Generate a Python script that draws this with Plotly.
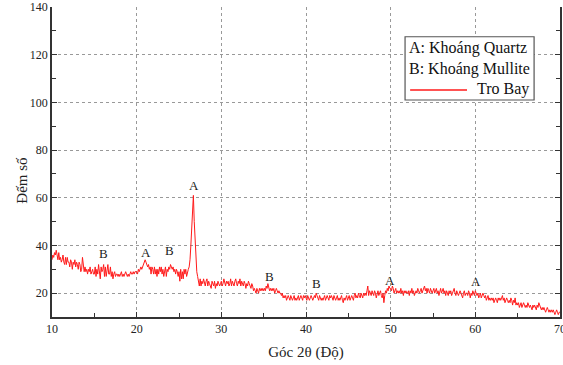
import numpy as np
import plotly.graph_objects as go

# 2-theta start/step (degrees)
theta_start = 10.0
theta_step = 0.1

# Counts, one row per degree (10.0 .. 69.9), then 70.0
counts = [
    34,36,35,37,36,38,36,34,37,34,   # 10
    35,33,34,36,33,32,35,32,35,33,   # 11
    33,31,34,33,30,33,32,34,31,33,   # 12
    32,30,33,32,29,30,35,30,29,31,   # 13
    29,30,28,30,29,31,28,29,30,28,   # 14
    28,31,27,30,28,32,28,26,31,29,   # 15
    30,32,27,31,27,30,32,28,28,31,   # 16
    27,29,26,28,29,27,28,28,27,28,   # 17
    27,28,29,27,28,27,28,29,28,27,   # 18
    28,27,28,29,28,28,29,28,29,29,   # 19
    29,28,30,29,30,31,30,31,32,33,   # 20
    34,33,32,31,32,30,31,28,31,30,   # 21
    28,31,28,30,27,30,28,31,29,31,   # 22
    28,30,27,29,31,27,30,29,31,30,   # 23
    32,31,30,31,29,30,28,30,29,27,   # 24
    29,25,30,26,29,26,30,28,30,27,   # 25
    29,30,31,34,40,47,51,61,50,41,   # 26
    34,29,27,25,23,26,23,25,24,26,   # 27
    24,23,25,26,23,25,24,23,22,25,   # 28
    24,23,25,22,24,23,25,24,23,24,   # 29
    25,23,24,26,24,23,25,24,25,23,   # 30
    24,26,23,25,24,23,25,26,24,23,   # 31
    25,24,26,23,25,24,23,25,24,22,   # 32
    24,23,25,24,23,22,24,23,21,22,   # 33
    21,20,22,21,20,22,21,22,21,22,   # 34
    21,22,21,23,22,24,22,21,22,21,   # 35
    22,21,22,20,21,22,21,20,21,20,   # 36
    20,19,20,18,19,18,19,17,18,19,   # 37
    18,17,19,18,17,18,19,17,18,17,   # 38
    18,19,17,18,19,18,17,19,18,19,   # 39
    18,17,19,18,17,18,19,18,17,18,   # 40
    19,18,20,19,18,17,19,18,17,18,   # 41
    17,18,19,17,18,19,18,17,19,18,   # 42
    19,18,17,19,18,17,18,19,17,18,   # 43
    17,18,19,17,16,18,17,18,19,17,   # 44
    18,19,17,18,19,18,17,19,20,18,   # 45
    19,18,20,19,18,20,19,18,20,19,   # 46
    20,19,21,23,19,21,20,19,21,20,   # 47
    19,21,20,18,20,21,19,20,21,19,   # 48
    18,20,16,19,21,20,22,21,23,22,   # 49
    22,21,23,22,20,21,22,20,21,20,   # 50
    21,20,22,20,21,19,21,20,21,20,   # 51
    20,21,19,21,20,22,20,21,19,20,   # 52
    21,20,22,21,20,21,22,20,21,22,   # 53
    23,21,22,20,22,21,20,22,21,20,   # 54
    21,22,20,21,22,20,21,19,21,22,   # 55
    20,21,22,20,21,19,21,20,19,21,   # 56
    20,21,19,20,21,22,20,19,21,20,   # 57
    19,20,21,20,19,18,20,21,19,20,   # 58
    20,19,21,20,18,20,19,21,20,19,   # 59
    21,20,19,20,18,19,20,18,19,20,   # 60
    19,18,19,17,18,19,17,18,17,18,   # 61
    17,18,16,17,18,17,16,18,17,18,   # 62
    17,18,19,17,18,16,17,18,17,16,   # 63
    17,16,18,17,15,17,16,18,15,16,   # 64
    15,16,14,15,16,14,15,16,15,14,   # 65
    15,14,16,15,14,15,14,13,15,14,   # 66
    15,14,13,15,14,16,15,14,13,14,   # 67
    13,14,13,12,13,14,13,12,13,12,   # 68
    13,12,13,12,11,12,13,12,11,12,   # 69
    12,                              # 70
]

# Phase markers
peak_labels = ["B", "A", "B", "A", "B", "B", "A", "A"]
peak_x = [16.1, 21.1, 23.9, 26.8, 35.7, 41.2, 49.9, 60.1]
peak_y = [36.8, 37.2, 38.0, 65.3, 27.1, 24.2, 25.5, 25.0]

legend_lines = ["A: Khoáng Quartz", "B: Khoáng Mullite"]
series_name = "Tro Bay"
x_title = "Góc 2θ (Độ)"
y_title = "Đếm số"

x_ticks = [10, 20, 30, 40, 50, 60, 70]
y_ticks = [20, 40, 60, 80, 100, 120, 140]

two_theta = theta_start + theta_step * np.arange(len(counts))

FONT = "Liberation Serif, Times New Roman, serif"
RED = "#ff1a1a"

fig = go.Figure()
fig.add_trace(go.Scatter(x=two_theta, y=counts, mode="lines", name=series_name,
                         line=dict(color=RED, width=1), showlegend=False))

for lab, px_, py_ in zip(peak_labels, peak_x, peak_y):
    fig.add_annotation(x=px_, y=py_, text=lab, showarrow=False, xref="x", yref="y",
                       font=dict(family=FONT, size=13, color="#222"))

# legend box
fig.add_shape(type="rect", xref="paper", yref="paper", x0=0.695, x1=0.949, y0=0.700, y1=0.904,
              line=dict(color="#555", width=1.2), fillcolor="white", layer="above")
fig.add_annotation(xref="paper", yref="paper", x=0.699, y=0.868, xanchor="left", yanchor="middle",
                   text=legend_lines[0], showarrow=False, font=dict(family=FONT, size=16, color="#111"))
fig.add_annotation(xref="paper", yref="paper", x=0.699, y=0.800, xanchor="left", yanchor="middle",
                   text=legend_lines[1], showarrow=False, font=dict(family=FONT, size=16, color="#111"))
fig.add_shape(type="line", xref="paper", yref="paper", x0=0.705, x1=0.817, y0=0.732, y1=0.732,
              line=dict(color=RED, width=1.5), layer="above")
fig.add_annotation(xref="paper", yref="paper", x=0.833, y=0.735, xanchor="left", yanchor="middle",
                   text=series_name, showarrow=False, font=dict(family=FONT, size=16, color="#111"))

# y-axis title as rotated annotation
fig.add_annotation(xref="paper", yref="paper", x=-0.059, y=0.44, xanchor="center", yanchor="middle",
                   text=y_title, textangle=-90, showarrow=False,
                   font=dict(family=FONT, size=15, color="#222"))

fig.update_layout(
    width=563, height=365,
    margin=dict(l=52, r=3, t=7, b=48),
    paper_bgcolor="white", plot_bgcolor="white",
    font=dict(family=FONT, size=12, color="#222"),
    showlegend=False,
)
fig.update_xaxes(
    range=[10, 70], tickvals=x_ticks, ticks="inside", ticklen=5, tickcolor="#333",
    minor=dict(dtick=5, ticks="inside", ticklen=4, tickcolor="#333", showgrid=False),
    showline=True, linecolor="#333", linewidth=1.5, mirror=False, automargin=False,
    ticklabeloverflow="allow",
    showgrid=True, gridcolor="#999", griddash="dot", gridwidth=1, zeroline=False,
    title=dict(text=x_title, font=dict(family=FONT, size=15, color="#222"), standoff=11),
    tickfont=dict(family=FONT, size=12, color="#222"),
)
fig.update_yaxes(
    range=[10, 140], tickvals=y_ticks, ticks="inside", ticklen=5, tickcolor="#333",
    minor=dict(dtick=10, tick0=0, ticks="inside", ticklen=4, tickcolor="#333", showgrid=False),
    showline=True, linecolor="#333", linewidth=1.5, mirror="ticks", automargin=False,
    showgrid=True, gridcolor="#999", griddash="dot", gridwidth=1, zeroline=False,
    tickfont=dict(family=FONT, size=12, color="#222"),
)

fig.write_html("out.html", config={"displayModeBar": False},
               post_script="document.body.style.margin='0';")
